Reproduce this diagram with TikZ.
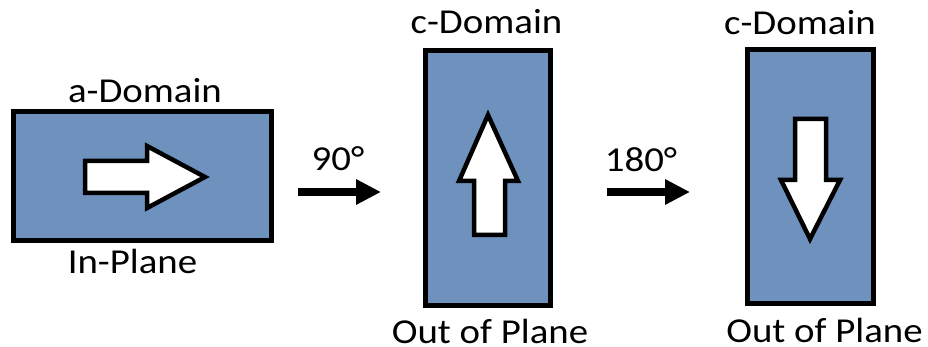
\documentclass[tikz,border=0pt]{standalone}
\usepackage{fontspec}
\usepackage{graphicx}
\setmainfont{Carlito}
\usetikzlibrary{arrows.meta}
\definecolor{domfill}{RGB}{111,145,190}
\newcommand{\wtxt}[1]{\scalebox{1.11}[1]{#1}}
\tikzset{
  dombox/.style={draw=black, line width=5pt, fill=domfill, inner sep=0pt, outer sep=0pt},
  lblnode/.style={anchor=base, inner sep=0pt, font=\fontsize{35}{42}\selectfont},
  polshape/.style={draw=black, fill=white, line width=4.5pt, line join=miter},
  rotarrow/.style={line width=8pt, -{Triangle[length=25pt,width=24pt]}}
}
\begin{document}
\begin{tikzpicture}[x=1pt,y=-1pt]
\useasboundingbox (0,0) rectangle (928,347);
% domains
\node[dombox, minimum width=258pt, minimum height=129pt] (d1) at (142,176.5) {};
\node[dombox, minimum width=125pt, minimum height=255pt] (d2) at (488,178) {};
\node[dombox, minimum width=126pt, minimum height=254pt] (d3) at (810.5,176.5) {};
% polarization arrows
\draw[polshape] (85,161) -- (147,161) -- (147,146) -- (205,177) -- (147,208) -- (147,193) -- (85,193) -- cycle;
\draw[polshape] (488,115) -- (518,181) -- (505,181) -- (505,235) -- (474,235) -- (474,181) -- (459,181) -- cycle;
\draw[polshape] (795,119) -- (826,119) -- (826,180) -- (840,180) -- (810,239) -- (781,180) -- (795,180) -- cycle;
% labels
\node[lblnode] (t1) at (145,103) {\wtxt{a-Domain}};
\node[lblnode] (b1) at (132.5,273) {\wtxt{In-Plane}};
\node[lblnode] (t2) at (486.5,34) {\wtxt{c-Domain}};
\node[lblnode] (b2) at (490,343) {\wtxt{Out of Plane}};
\node[lblnode] (t3) at (800,35) {\wtxt{c-Domain}};
\node[lblnode] (b3) at (824.5,342) {\wtxt{Out of Plane}};
\node[lblnode] (r1) at (338,171) {\wtxt{90°}};
\node[lblnode] (r2) at (641,172) {\wtxt{180°}};
% rotation arrows
\coordinate (s1) at (298,192);
\coordinate (e1) at (381,192);
\coordinate (s2) at (607,192);
\coordinate (e2) at (690,192);
\draw[rotarrow] (s1) -- (e1);
\draw[rotarrow] (s2) -- (e2);
\end{tikzpicture}
\end{document}
